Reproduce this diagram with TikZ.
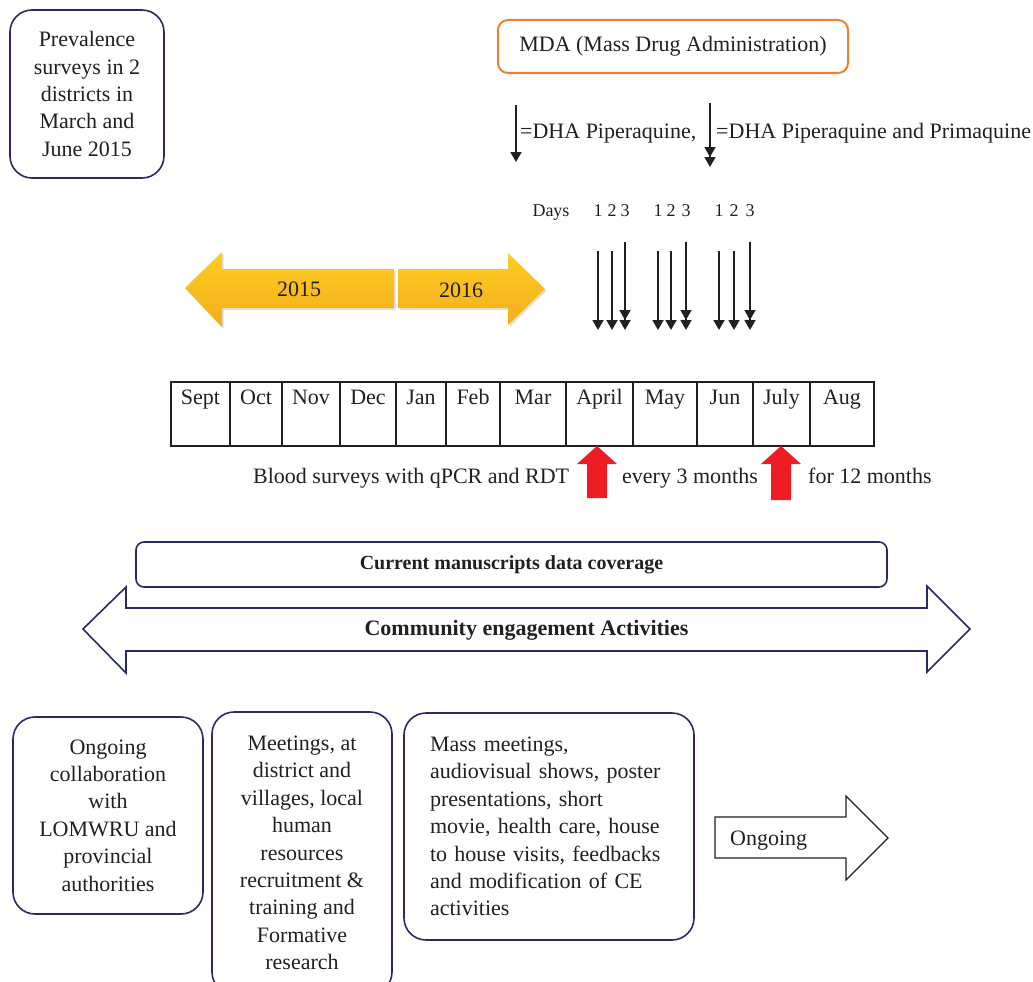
\documentclass[tikz,border=0pt]{standalone}
\usepackage{fontspec}
\setmainfont{Liberation Serif}
\usepackage{xcolor}
\usetikzlibrary{arrows.meta,shadows}
\definecolor{navy}{HTML}{262C60}
\definecolor{mdaorange}{HTML}{EE7F33}
\definecolor{bloodred}{HTML}{EE1C25}
\definecolor{goldtop}{HTML}{FFCD22}
\definecolor{goldbot}{HTML}{F2AE1C}
\definecolor{ink}{HTML}{231F20}

\begin{document}
\begin{tikzpicture}[x=1pt,y=-1pt,
		txt/.style={font=\fontsize{22}{27.4}\selectfont,text=ink,inner sep=0pt},
		small/.style={font=\fontsize{18}{20}\selectfont,text=ink,inner sep=0pt},
		bluebox/.style={txt,draw=navy,line width=1.6pt,rounded corners=22pt},
		drug/.style={draw=ink,line width=1.8pt,-{Triangle[length=10pt,width=11pt]}},
		drugprim/.style={draw=ink,line width=1.8pt,-{Triangle[length=10pt,width=11pt]Triangle[length=10pt,width=11pt]}},
		gold/.style={top color=goldtop,bottom color=goldbot,
			drop shadow={shadow xshift=1.5pt,shadow yshift=-2pt,opacity=.25}}]
	\useasboundingbox (0,0) rectangle (1033,982);
	
	% top boxes
	\node[bluebox,align=center,minimum width=154pt,minimum height=168pt] (prev) at (87,94)
		{Prevalence\\surveys in 2\\districts in\\March and\\June 2015};
	\node[txt,draw=mdaorange,line width=2pt,rounded corners=10pt,minimum width=350pt,minimum height=53pt] (mda) at (673,46.5)
		{MDA (Mass Drug Administration)};
	
	% legend
	\coordinate (la) at (516,105); \coordinate (lb) at (516,162);
	\coordinate (pa) at (710,103); \coordinate (pb) at (710,167);
	\draw[drug] (la)--(lb);
	\draw[drugprim] (pa)--(pb);
	\node[txt,anchor=base west] (legA) at (520,138) {=DHA Piperaquine,};
	\node[txt,anchor=base west] (legB) at (716,138) {=DHA Piperaquine and Primaquine};
	
	% MDA rounds, day 3 with primaquine
	\node[small,anchor=base] (days) at (551,216) {Days};
	\foreach \a/\b/\c in
	{598/612/625, 658/671/686, 719/734/750}{
		\node[small,anchor=base] (one\a) at (\a,216) {1};
		\node[small,anchor=base] (two\b) at (\b,216) {2};
		\node[small,anchor=base] (three\c) at (\c,216) {3};
		\coordinate (t\a) at (\a,251); \coordinate (b\a) at (\a,330);
		\coordinate (t\b) at (\b,251); \coordinate (b\b) at (\b,330);
		\coordinate (t\c) at (\c,242); \coordinate (b\c) at (\c,330);
		\draw[drug] (t\a)--(b\a);
		\draw[drug] (t\b)--(b\b);
		\draw[drugprim] (t\c)--(b\c);
	}
	
	% years
	\path[gold] (185,288) -- (222,252) -- (222,269) -- (394,269) -- (394,308) -- (222,308) -- (222,327) -- cycle;
	\path[gold] (398,269) -- (508,269) -- (508,253) -- (545,289) -- (508,325) -- (508,308) -- (398,308) -- cycle;
	\node[txt] (yr15) at (299,289) {2015};
	\node[txt] (yr16) at (461,290) {2016};
	
	% months
	\foreach \m/\a/\b in
	{Sept/171/230, Oct/230/282, Nov/282/340, Dec/340/396, Jan/396/446, Feb/446/500,
		Mar/500/566, April/566/633, May/633/697, Jun/697/753, July/753/810, Aug/810/874}{
		\draw[ink,line width=1.2pt] (\a,382) rectangle (\b,446);
		\node[txt,anchor=base] (\m) at ({(\a+\b)/2},404) {\m};
	}
	
	% blood surveys
	\foreach \c/\e in {597/34, 781/36}{
		\coordinate (tip\c) at (\c,446);
		\fill[bloodred] (tip\c) -- ++(20,18) -- ++(-10,0) -- ++(0,\e) -- ++(-20,0) -- ++(0,-\e) -- ++(-10,0) -- cycle;
	}
	\node[txt,anchor=base west] (blood) at (253,483) {Blood surveys with qPCR and RDT};
	\node[txt,anchor=base west] (every) at (622,483) {every 3 months};
	\node[txt,anchor=base west] (twelve) at (808,483) {for 12 months};
	
	% coverage and community engagement
	\node[draw=navy,line width=1.6pt,rounded corners=8pt,minimum width=751pt,minimum height=45pt,
		font=\bfseries\fontsize{20}{24}\selectfont,text=ink] (cover) at (511.5,564.5) {Current manuscripts data coverage};
	\draw[navy,line width=1.6pt] (83,629) -- (126,587) -- (126,608) -- (927,608) -- (927,586) -- (970,629)
		-- (927,672) -- (927,651) -- (126,651) -- (126,673) -- cycle;
	\node[font=\bfseries\fontsize{22}{26}\selectfont,text=ink,inner sep=0pt] (ce) at (526.5,630) {Community engagement Activities};
	
	% activities
	\node[bluebox,align=center,minimum width=190pt,minimum height=197pt] (collab) at (108,815.5)
		{Ongoing\\collaboration\\with\\LOMWRU and\\provincial\\authorities};
	\node[bluebox,align=center,minimum width=180pt,minimum height=282pt] (meet) at (302,853)
		{Meetings, at\\district and\\villages, local\\human\\resources\\recruitment \&\\training and\\Formative\\research};
	\node[bluebox,align=left,text width=238pt,inner xsep=26pt,minimum height=227pt] (mass) at (549,826.5)
		{Mass meetings,\\audiovisual shows, poster\\presentations, short\\movie, health care, house\\to house visits, feedbacks\\and modification of CE\\activities};
	\draw[ink,line width=1.2pt] (715,817) -- (846,817) -- (846,796) -- (888,838) -- (846,880) -- (846,858) -- (715,858) -- cycle;
	\node[txt,anchor=base west] (ongo) at (730,845) {Ongoing};
\end{tikzpicture}
\end{document}
